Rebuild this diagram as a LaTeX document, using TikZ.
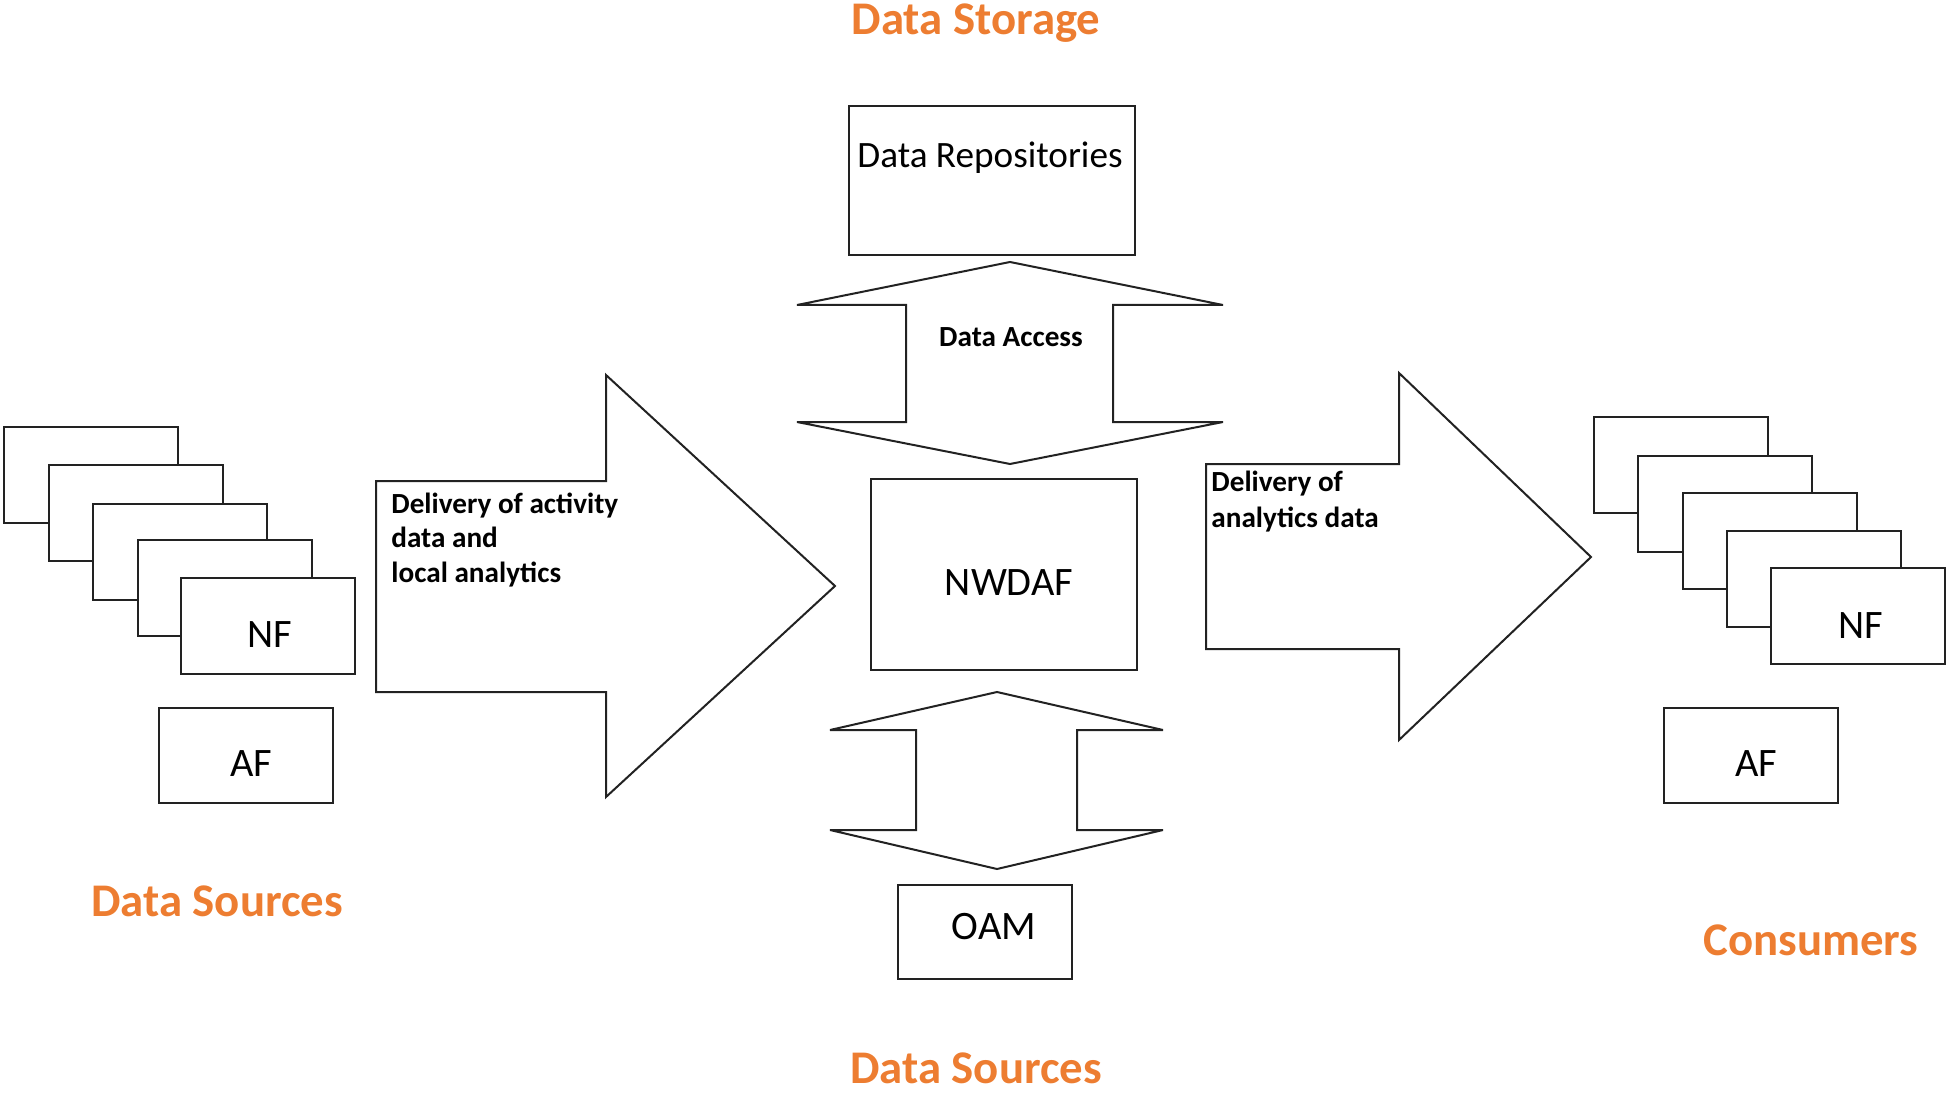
\documentclass[tikz,border=0pt]{standalone}
\usepackage{fontspec}
\setmainfont{Carlito}
\definecolor{hdorange}{HTML}{ED7D31}
\definecolor{lnc}{HTML}{222222}
\tikzset{
  px/.style={x=0.5pt,y=-0.5pt},
  shp/.style={draw=lnc,line width=1pt,fill=white,line join=miter,miter limit=3},
  boxtxt/.style={anchor=base,inner sep=0pt,font=\fontsize{20.2pt}{24pt}\selectfont},
  lbl/.style={anchor=base west,inner sep=0pt,font=\fontsize{14.6pt}{17pt}\selectfont\bfseries},
  title/.style={anchor=base,inner sep=0pt,text=hdorange,font=\fontsize{23.4pt}{28pt}\selectfont\bfseries}
}
\begin{document}
\begin{tikzpicture}[px]
\useasboundingbox (0,0) rectangle (1952,1096);

% left stack
\foreach \x/\y [count=\i] in {4/427,49/465,93/504,138/540,181/578}{
  \draw[shp] (\x,\y) rectangle ++(174,96);
}
\node[boxtxt] (lnft) at (270,647) {NF};
\draw[shp] (159,708) rectangle (333,803);
\node[boxtxt] (laf) at (251,776) {AF};
\node[title] (lds) at (217,916) {Data Sources};

% left big arrow
\draw[shp] (376,481) -- (606,481) -- (606,375) -- (835,586) -- (606,797) -- (606,692) -- (376,692) -- cycle;
\node[lbl] (dl1) at (391,513) {Delivery of activity};
\node[lbl] (dl2) at (391,547) {data and};
\node[lbl] (dl3) at (391,582) {local analytics};

% top
\node[title] (dst) at (976,35) {Data Storage};
\draw[shp] (849,106) rectangle (1135,255);
\node[boxtxt,font=\fontsize{18.6pt}{22pt}\selectfont] (drt) at (990,168) {Data Repositories};
\draw[shp] (1010,262) -- (1223,305) -- (1113,305) -- (1113,422) -- (1223,422) -- (1010,464) -- (797,422) -- (906,422) -- (906,305) -- (797,305) -- cycle;
\node[lbl,anchor=base] (da) at (1011,347) {Data Access};

% NWDAF
\draw[shp] (871,479) rectangle (1137,670);
\node[boxtxt] (nw) at (1009,595) {NWDAF};

% bottom
\draw[shp] (997,692) -- (1163,730) -- (1077,730) -- (1077,830) -- (1163,830) -- (997,869) -- (830,830) -- (916,830) -- (916,730) -- (830,730) -- cycle;
\draw[shp] (898,885) rectangle (1072,979);
\node[boxtxt] (oam) at (994,939) {OAM};
\node[title] (bds) at (976,1083) {Data Sources};

% right arrow
\draw[shp] (1206,464) -- (1399,464) -- (1399,373) -- (1591,557) -- (1399,740) -- (1399,649) -- (1206,649) -- cycle;
\node[lbl] (dr1) at (1211,491) {Delivery of};
\node[lbl] (dr2) at (1211,527) {analytics data};

% right stack
\foreach \x/\y [count=\i] in {1594/417,1638/456,1683/493,1727/531,1771/568}{
  \draw[shp] (\x,\y) rectangle ++(174,96);
}
\node[boxtxt] (rnf) at (1861,638) {NF};
\draw[shp] (1664,708) rectangle (1838,803);
\node[boxtxt] (raf) at (1756,776) {AF};
\node[title] (cons) at (1811,955) {Consumers};
\end{tikzpicture}
\end{document}
